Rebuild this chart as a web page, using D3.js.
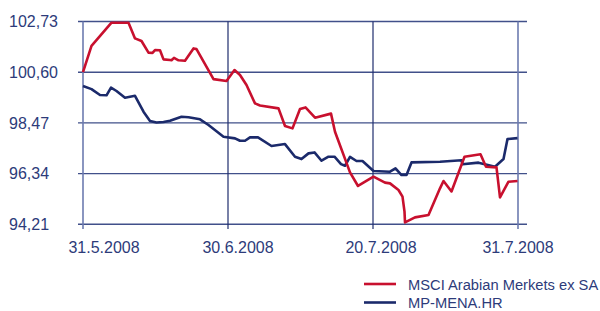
<!DOCTYPE html>
<html><head><meta charset="utf-8">
<script src="https://cdn.jsdelivr.net/npm/d3@7"></script>
<style>
html,body{margin:0;padding:0;background:#fff;}
svg{display:block;font-family:"Liberation Sans",Arial,sans-serif;}
</style></head>
<body><svg id="chart" width="600" height="311"></svg>
<script>
// Tick labels
const yTicks = [94.21, 96.34, 98.47, 100.60, 102.73];
const xCategories = ["31.5.2008", "30.6.2008", "20.7.2008", "31.7.2008"];
const xCategoryPos = [0, 29, 58, 87]; // trading-day index of each label
const seriesNames = ["MSCI Arabian Merkets ex SA", "MP-MENA.HR"];

// MSCI Arabian Markets ex SA: trading-day index and value
const msciT = [0,1.7,5.7,9.1,10.4,11.7,13.1,13.9,14.4,15.4,16.1,17.4,17.7,18.2,19.1,20.4,22.1,22.7,26.1,28.7,30.3,31.4,32.7,34.4,35.4,39.1,40.4,41.9,43.4,44.5,46.4,49.6,50.4,53.4,55,58.1,60.4,61.4,63.1,63.9,64.3,64.4,66.4,69.1,71.4,72.1,73.7,76.3,79.5,80.6,82.7,83.4,85.1,86.9];
const msciV = [100.60,101.71,102.68,102.68,102.02,101.91,101.42,101.41,101.53,101.52,101.14,101.11,101.10,101.20,101.10,101.08,101.60,101.57,100.31,100.23,100.69,100.48,100.06,99.29,99.20,99.08,98.34,98.24,99.05,99.12,98.69,98.86,98.10,96.39,95.82,96.21,95.96,95.93,95.65,95.37,94.74,94.29,94.50,94.60,95.72,96.03,95.59,97.05,97.15,96.63,96.60,95.34,96.00,96.03];

// MP-MENA.HR
const menaT = [0,1.7,3.4,4.7,5.6,6.7,8.4,10.4,12.1,13.4,14.7,16.1,17.4,19.7,21.1,23.4,25.1,28.1,30.4,31.4,32.4,33.4,35,37.7,40.4,42.4,43.7,45.1,46.3,47.7,49.1,50.3,51.6,52.4,53.4,54.7,55.9,58.1,61.4,62.5,63.7,64.7,65.7,71.4,75.7,75.9,79.1,82.4,84.1,84.9,86.9];
const menaV = [100.02,99.89,99.64,99.63,99.95,99.81,99.53,99.61,98.94,98.55,98.49,98.51,98.56,98.73,98.71,98.62,98.38,97.89,97.82,97.72,97.72,97.86,97.86,97.50,97.58,97.05,96.95,97.19,97.23,96.88,97.05,97.05,96.74,96.67,97.04,96.87,96.87,96.45,96.42,96.56,96.28,96.28,96.81,96.84,96.90,96.73,96.80,96.63,96.95,97.79,97.83];

const colors = ["#c8102e", "#1b2a6b"];
const textColor = "#2d3b7a";

const svg = d3.select("#chart");
const x = d3.scaleLinear().domain([0, 87]).range([83, 518]);
const y = d3.scaleLinear().domain([94.21, 102.73]).range([224.3, 21.5]);

// horizontal gridlines
svg.append("g").selectAll("line").data(yTicks).join("line")
  .attr("x1", 78).attr("x2", 527)
  .attr("y1", d => y(d)).attr("y2", d => y(d))
  .attr("stroke", "#41508a").attr("stroke-width", 1.4);

// vertical lines
svg.append("g").selectAll("line").data(xCategoryPos).join("line")
  .attr("x1", d => x(d)).attr("x2", d => x(d))
  .attr("y1", y(102.73)).attr("y2", 229)
  .attr("stroke", (d, i) => (i === 0 || i === 3) ? "#6d7bb0" : "#1f2d6d")
  .attr("stroke-width", (d, i) => (i === 0 || i === 3) ? 1.6 : 1.2);

// y labels
svg.append("g").selectAll("text").data(yTicks).join("text")
  .attr("x", 9).attr("y", d => y(d)).attr("dy", "0.36em")
  .attr("font-size", 16).attr("fill", textColor)
  .text(d => d.toFixed(2).replace(".", ","));

// x labels
const labelDx = [21, 10, 8, 0];
svg.append("g").selectAll("text").data(xCategories).join("text")
  .attr("x", (d, i) => x(xCategoryPos[i]) + labelDx[i]).attr("y", 253)
  .attr("text-anchor", "middle")
  .attr("font-size", 16).attr("fill", textColor)
  .text(d => d);

const line = d3.line().x(d => x(d[0])).y(d => y(d[1]));
const msci = d3.zip(msciT, msciV);
const mena = d3.zip(menaT, menaV);

svg.append("path").datum(mena).attr("d", line)
  .attr("fill", "none").attr("stroke", colors[1]).attr("stroke-width", 2.6)
  .attr("stroke-linejoin", "round");
svg.append("path").datum(msci).attr("d", line)
  .attr("fill", "none").attr("stroke", colors[0]).attr("stroke-width", 2.6)
  .attr("stroke-linejoin", "round");

// legend
const lg = svg.append("g").selectAll("g").data(seriesNames).join("g")
  .attr("transform", (d, i) => `translate(364,${284 + i * 18.5})`);
lg.append("line").attr("x1", 0).attr("x2", 32).attr("y1", 0).attr("y2", 0)
  .attr("stroke", (d, i) => colors[i]).attr("stroke-width", 2.6);
lg.append("text").attr("x", 44).attr("y", 0).attr("dy", "0.38em")
  .attr("font-size", 14.7).attr("fill", textColor)
  .text(d => d);
</script></body></html>
